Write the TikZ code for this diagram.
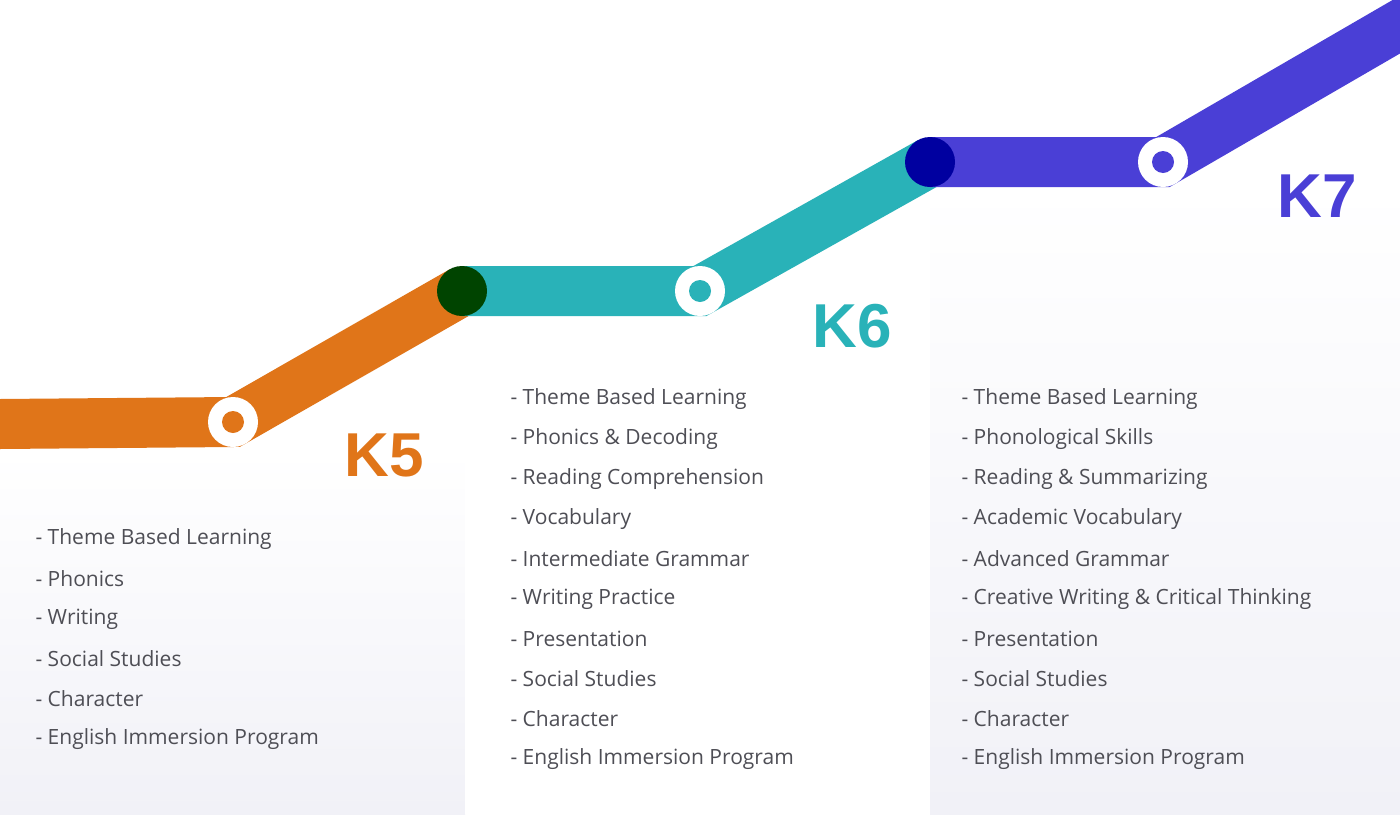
\documentclass[tikz,border=0pt]{standalone}
\usepackage{fontspec}
\setmainfont{Open Sans}
\newfontfamily\kfont{Liberation Sans}
\definecolor{cor}{HTML}{E07519}
\definecolor{cte}{HTML}{29B2B8}
\definecolor{cbl}{HTML}{4A3FD6}
\definecolor{cgr}{HTML}{004400}
\definecolor{cdb}{HTML}{0000A0}
\definecolor{ctx}{HTML}{4E4E55}
\definecolor{cbg}{HTML}{F1F1F7}
\begin{document}
\begin{tikzpicture}[x=1pt,y=-1pt,
  band/.style={line width=50pt},
  ring/.style={circle,fill=white,minimum size=50pt,inner sep=0pt},
  dotc/.style={circle,minimum size=22pt,inner sep=0pt},
  big/.style={circle,minimum size=50pt,inner sep=0pt},
  klab/.style={font=\kfont\bfseries\fontsize{62}{62}\selectfont},
  item/.style={anchor=west,text=ctx,font=\fontsize{21}{24}\selectfont}]
\useasboundingbox (0,0) rectangle (1400,814);
\fill[white] (0,0) rectangle (1400,814);
\shade[top color=white,bottom color=cbg] (0,450) rectangle (465,814);
\fill[white] (465,315) rectangle (930,814);
\shade[top color=white,bottom color=cbg] (930,185) rectangle (1400,814);
\coordinate (a0) at (0,424);
\node[ring] (r1) at (233,422) {};
\node[big] (c1) at (462,291) {};
\node[ring] (r2) at (700,291) {};
\node[big] (c2) at (930,162) {};
\node[ring] (r3) at (1163,162) {};
\coordinate (e) at (1420,13);
\draw[band,cor] (a0) -- (r1.center) -- (c1.center);
\draw[band,cte] (c1.center) -- (r2.center) -- (c2.center);
\draw[band,cbl] (c2.center) -- (r3.center) -- (e);
\node[ring] at (r1) {}; \node[dotc,fill=cor] at (r1) {};
\node[big,fill=cgr] at (c1) {};
\node[ring] at (r2) {}; \node[dotc,fill=cte] at (r2) {};
\node[big,fill=cdb] at (c2) {};
\node[ring] at (r3) {}; \node[dotc,fill=cbl] at (r3) {};
\node[klab,text=cor] (k5) at (384,455) {K5};
\node[klab,text=cte] (k6) at (852,326) {K6};
\node[klab,text=cbl] (k7) at (1317,196) {K7};
\foreach \t [count=\i from 0] in {Theme Based Learning,Phonics,Writing,Social Studies,Character,English Immersion Program}
  \node[item] (l\i) at (32,539+40*\i) {- \t};
\foreach \t [count=\i from 0] in {Theme Based Learning,Phonics \& Decoding,Reading Comprehension,Vocabulary,Intermediate Grammar,Writing Practice,Presentation,Social Studies,Character,English Immersion Program}
  \node[item] (m\i) at (507,399+40*\i) {- \t};
\foreach \t [count=\i from 0] in {Theme Based Learning,Phonological Skills,Reading \& Summarizing,Academic Vocabulary,Advanced Grammar,Creative Writing \& Critical Thinking,Presentation,Social Studies,Character,English Immersion Program}
  \node[item] (r\i) at (958,399+40*\i) {- \t};
\end{tikzpicture}
\end{document}
